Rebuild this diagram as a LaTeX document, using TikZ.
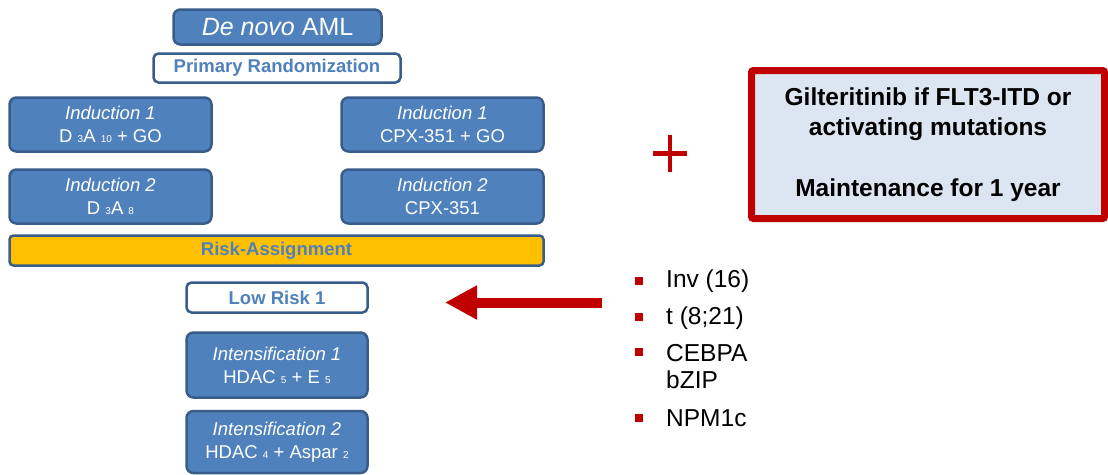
\documentclass[tikz,border=0pt]{standalone}
\usepackage{fontspec}
\setmainfont{Liberation Sans}
\usetikzlibrary{arrows.meta,positioning}
\definecolor{boxblue}{HTML}{4F81BD}
\definecolor{edgeblue}{HTML}{385D8A}
\definecolor{riskorange}{HTML}{FFC000}
\definecolor{darkred}{HTML}{C00000}
\definecolor{paleblue}{HTML}{DCE6F2}
\newcommand\lo[1]{{\fontsize{10}{10}\selectfont#1}}
\tikzset{
  armbox/.style={draw=edgeblue, line width=2.5pt, fill=boxblue, rounded corners=7pt,
    text=white, align=center, inner sep=0pt, minimum width=202pt, minimum height=54pt,
    font=\fontsize{18.5}{23}\selectfont},
  labelbox/.style={draw=edgeblue, line width=2.5pt, fill=white, rounded corners=5pt,
    text=boxblue, inner sep=0pt, minimum height=29pt, font=\fontsize{18.5}{22}\selectfont\bfseries},
  bullet/.style={fill=darkred, inner sep=0pt, minimum size=7.5pt},
  item/.style={anchor=west, inner sep=0pt, align=left, font=\fontsize{24.5}{27}\selectfont}
}
\begin{document}
\begin{tikzpicture}[x=1pt, y=-1pt]
\useasboundingbox (0,0) rectangle (1108,474);
% left column
\node[armbox, minimum width=208pt, minimum height=35pt, font=\fontsize{25}{28}\selectfont] (denovo) at (277.5,27) {\textit{De novo} AML};
\node[labelbox, minimum width=247pt] (primrand) at (277,68) {Primary Randomization};
\node[armbox] (indoneL) at (110.5,124.5) {\textit{Induction 1}\\D \lo{3}A \lo{10} + GO};
\node[armbox] (indoneR) at (442.5,124.5) {\textit{Induction 1}\\CPX-351 + GO};
\node[armbox] (indtwoL) at (110.5,196.5) {\textit{Induction 2}\\D \lo{3}A \lo{8}};
\node[armbox] (indtwoR) at (442.5,196.5) {\textit{Induction 2}\\CPX-351};
\node[labelbox, fill=riskorange, rounded corners=4pt, minimum width=534pt, minimum height=30pt] (risk) at (276.5,250.5) {Risk-Assignment};
\node[labelbox, minimum width=181pt, minimum height=30pt] (lowrisk) at (277,297.5) {Low Risk 1};
\node[armbox, minimum width=181pt, minimum height=65pt] (intone) at (277,365) {\textit{Intensification 1}\\HDAC \lo{5} + E \lo{5}};
\node[armbox, minimum width=181pt, minimum height=62pt] (inttwo) at (277,442) {\textit{Intensification 2}\\HDAC \lo{4} + Aspar \lo{2}};

% arrow from the list
\coordinate (arrowtail) at (602,302.5);
\coordinate (arrowtip) at (445,302.5);
\draw[darkred, line width=10pt, -{Triangle[length=32pt,width=32pt]}] (arrowtail) -- (arrowtip);

% low risk markers
\node[bullet] (bone) at (639,281) {};
\node[item] (inv) at (666,281) {Inv (16)};
\node[bullet] (btwo) at (639,317) {};
\node[item] (trans) at (666,318) {t (8;21)};
\node[bullet] (bthree) at (639,352) {};
\node[item] (cebpa) at (666,366.5) {CEBPA\\bZIP};
\node[bullet] (bfour) at (639,418) {};
\node[item] (npm) at (666,418) {NPM1c};

% maintenance
\coordinate (plus) at (670,153.5);
\draw[darkred, line width=4.5pt] ([xshift=-17pt]plus) -- ([xshift=17pt]plus)
  ([yshift=-18.5pt]plus) -- ([yshift=18.5pt]plus);
\node[draw=darkred, line width=7pt, fill=paleblue, rounded corners=2pt, inner sep=0pt,
  minimum width=353pt, minimum height=148pt, align=center,
  font=\fontsize{24.5}{30.5}\selectfont\bfseries] (maint) at (928,144.5)
  {Gilteritinib if FLT3-ITD or\\activating mutations\\[30.5pt]Maintenance for 1 year};
\end{tikzpicture}
\end{document}
